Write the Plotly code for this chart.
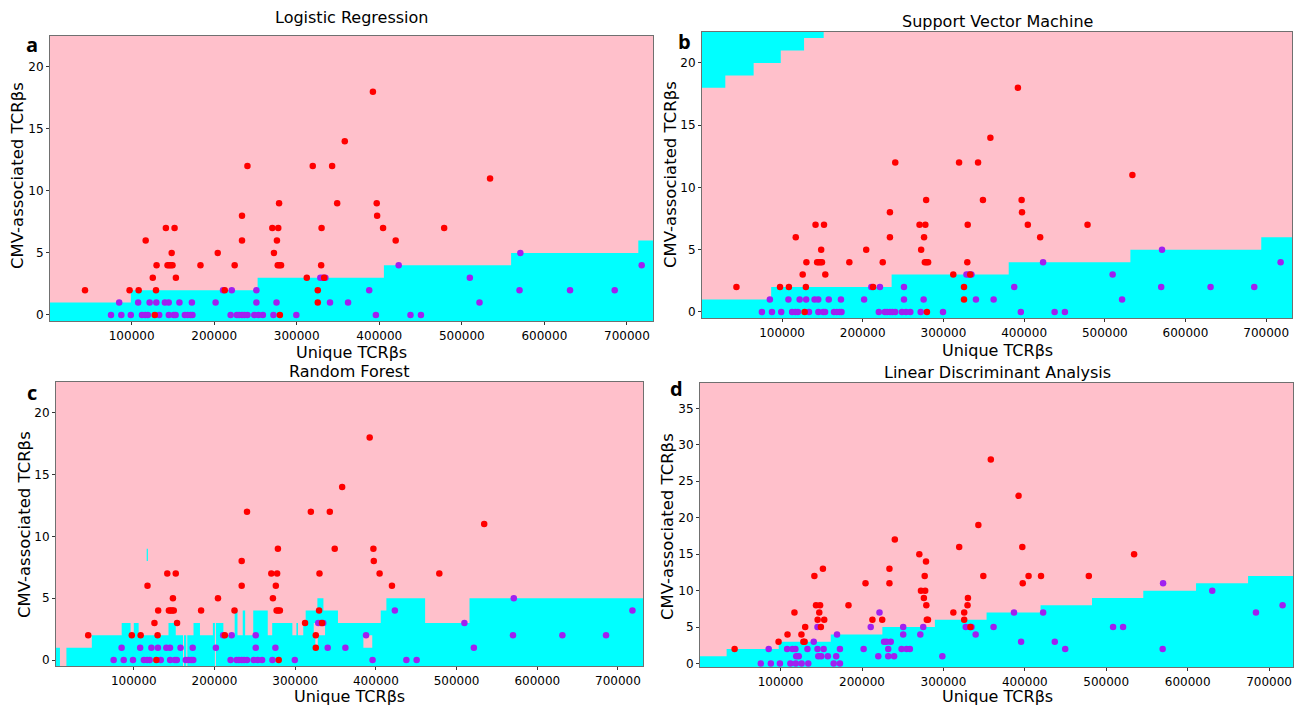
import plotly.graph_objects as go

W, H = 1304, 709
PINK = "#ffc0cb"
CYAN = "#00ffff"
RED = "#ff0000"
PURPLE = "#a020f0"
FONT = "DejaVu Sans"

# ---------------- data ----------------
# CMV+ samples (red) : unique TCRbs, CMV-associated count (panels a-c), count (panel d)
pos_x = [43500, 97500, 108500, 117000, 125600, 128000, 129500, 130200, 141500, 143500,
         145500, 147500, 148500, 149500, 152000, 153600, 183400, 204300, 212800, 224800,
         233700, 233700, 240300, 270400, 272400, 276000, 277600, 278600, 277000, 279000,
         281000, 279600, 312200, 319400, 325500, 325500, 330100, 329600, 333200, 342900,
         349000, 358200, 392300, 396900, 397400, 404600, 419900, 478600, 534200]
pos_y_abc = [2, 2, 2, 6, 3, 0, 2, 4, 7, 4, 4, 4, 5, 4, 7, 3, 4, 5, 2, 4,
             6, 8, 12, 7, 5, 6, 7, 9, 4, 4, 4, 0, 3, 12, 2, 1, 7, 4, 3, 12,
             9, 14, 18, 9, 8, 7, 6, 7, 11]
pos_y_d = [2, 3, 4, 7, 4, 3, 3, 5, 12, 8, 6, 7, 8, 5, 13, 6, 8, 11, 6, 6,
           11, 13, 17, 15, 10, 9, 10, 14, 12, 8, 6, 6, 7, 16, 7, 6, 9, 8, 5, 19,
           12, 28, 23, 16, 11, 12, 12, 12, 15]

# CMV- samples (purple), panels a-c
neg_x_abc = [75000, 87500, 99000, 112500, 116500, 119600, 133400, 145000, 151000, 153300,
             164400, 167800, 171200, 173700, 219900, 227400, 230200, 233700, 236700, 240300,
             248600, 253600, 259000, 271800, 299500, 395900, 437800, 450500,
             84900, 107900, 121800, 129900, 140300, 144900, 157900, 173000, 201700, 251100,
             275500, 340300, 362200, 521400,
             210700, 221300, 251100, 387800, 569900, 631100, 685200,
             328600, 331600, 334700, 509700,
             423500, 717900,
             570900]
neg_y_abc = [0] * 28 + [1] * 14 + [2] * 7 + [3] * 4 + [4] * 2 + [5]

# CMV- samples (purple), panel d
neg_x_d = [75700, 88000, 85400, 99200, 108000, 112000, 118700, 114600, 118200, 119200,
           122300, 125800, 134000, 133000, 140700, 145300, 145300, 152900, 146300, 149900,
           158000, 165200, 172900, 168300, 169300, 172900, 202000, 210700, 220000, 221500,
           227100, 230200, 232200, 235300, 232200, 239400, 248600, 250600, 250600, 254700,
           258800, 271600, 275200, 298700, 327400, 332500, 334500, 339600, 361600, 386700,
           395400, 422500, 436800, 449600, 508400, 520700, 569800, 569300, 630200, 683900,
           716600]
neg_y_d = [0, 0, 2, 0, 2, 0, 0, 2, 2, 1,
           1, 0, 0, 2, 3, 5, 2, 2, 1, 1,
           1, 0, 0, 1, 4, 2, 2, 5, 1, 7,
           3, 3, 2, 3, 1, 1, 2, 4, 5, 2,
           2, 4, 5, 1, 5, 5, 5, 4, 5, 7,
           3, 7, 3, 2, 5, 5, 11, 2, 10, 7,
           8]

# ---------------- decision regions (cyan = CMV- class) ----------------
X_LO, X_HI = 0, 740000
lr_steps = [99000, 252600, 405600, 559700, 713800]
lr_levels = [1, 2, 3, 4, 5, 6]

svm_low_steps = [86500, 235800, 380900, 531700, 693900]
svm_low_levels = [1, 2, 3, 4, 5, 6]
svm_high_steps = [29700, 64800, 98400, 127300, 151600]
svm_high_levels = [18, 19, 20, 21, 22, 23]

rf_steps = [8500, 16500, 48000, 85000, 96000, 100000, 106000, 143000, 152000, 161000,
            162200, 165000, 166300, 174000, 182000, 198000, 200500, 201800, 211000, 225000,
            228500, 235000, 238000, 248000, 266000, 271500, 296500, 301500, 303500, 310000,
            313000, 327500, 335000, 353000, 406000, 413000, 461000, 516000]
rf_levels = [1, -1, 1, 2, 3, 2, 3, 2, 3, 2,
             -1, 2, -1, 2, 3, 2, 3, -1, 3, 2,
             4, 2, 4, 2, 4, 2, 3, 2, 3, 2,
             3, 4, 5, 4, 3, 4, 5, 3, 5]
rf_hole_x0 = [384500, 323000, 325000]
rf_hole_x1 = [395500, 337000, 328000]
rf_hole_y0 = [1, 2, 1]
rf_hole_y1 = [2, 3, 2]
rf_isl_x0 = [116000]
rf_isl_x1 = [117500]
rf_isl_y0 = [8]
rf_isl_y1 = [9]

lda_steps = [33700, 97700, 161600, 225000, 289500, 353000, 419300, 482500, 545500, 610300, 674200]
lda_levels = [1, 2, 3, 4, 5, 6, 7, 8, 9, 10, 11, 12]

titles = ["Logistic Regression", "Support Vector Machine", "Random Forest",
          "Linear Discriminant Analysis"]
letters = ["a", "b", "c", "d"]


def step_poly(steps, levels, base):
    edges = [X_LO] + steps + [X_HI]
    xs, ys = [X_LO], [base]
    for i, lv in enumerate(levels):
        xs += [edges[i], edges[i + 1]]
        ys += [lv, lv]
    xs += [X_HI, X_LO]
    ys += [base, base]
    return xs, ys


def rects(x0s, x1s, y0s, y1s):
    xs, ys = [], []
    for a, b, c, d in zip(x0s, x1s, y0s, y1s):
        xs += [a, b, b, a, a, None]
        ys += [c, c, d, d, c, None]
    return xs, ys


fig = go.Figure()


def add_fill(xs, ys, color, k):
    fig.add_trace(go.Scatter(x=xs, y=ys, mode="lines", fill="toself", fillcolor=color,
                             line=dict(width=0, color=color), hoverinfo="skip",
                             showlegend=False, xaxis=f"x{k}", yaxis=f"y{k}"))


def add_points(k, px, py, nx, ny):
    fig.add_trace(go.Scatter(x=nx, y=ny, mode="markers",
                             marker=dict(color=PURPLE, size=6.5, line=dict(width=0)),
                             showlegend=False, xaxis=f"x{k}", yaxis=f"y{k}"))
    fig.add_trace(go.Scatter(x=px, y=py, mode="markers",
                             marker=dict(color=RED, size=6.5, line=dict(width=0)),
                             showlegend=False, xaxis=f"x{k}", yaxis=f"y{k}"))


# a: logistic regression
add_fill(*step_poly(lr_steps, lr_levels, -1), CYAN, 1)
add_points(1, pos_x, pos_y_abc, neg_x_abc, neg_y_abc)
# b: SVM
add_fill(*step_poly(svm_low_steps, svm_low_levels, -1), CYAN, 2)
add_fill(*step_poly(svm_high_steps, svm_high_levels, 24), CYAN, 2)
add_points(2, pos_x, pos_y_abc, neg_x_abc, neg_y_abc)
# c: random forest
add_fill(*step_poly(rf_steps, rf_levels, -1), CYAN, 3)
add_fill(*rects(rf_hole_x0, rf_hole_x1, rf_hole_y0, rf_hole_y1), PINK, 3)
add_fill(*rects(rf_isl_x0, rf_isl_x1, rf_isl_y0, rf_isl_y1), CYAN, 3)
add_points(3, pos_x, pos_y_abc, neg_x_abc, neg_y_abc)
# d: LDA
add_fill(*step_poly(lda_steps, lda_levels, -1), CYAN, 4)
add_points(4, pos_x, pos_y_d, neg_x_d, neg_y_d)

# ---------------- layout ----------------
panels = [  # left, right, top, bottom (px), x range, y range, y tick step
    (50, 653, 36, 323, [1100, 731600], [-0.5, 22.5], 5),
    (702, 1292, 32, 320, [800, 732000], [-0.5, 22.5], 5),
    (56, 643, 384, 670, [3600, 731000], [-0.5, 22.5], 5),
    (700, 1293, 385, 671, [1000, 729400], [-0.5, 38.5], 5),
]
tickfont = dict(family=FONT, size=12, color="black")
annotations = []
layout = dict(width=W, height=H, margin=dict(l=0, r=0, t=0, b=0),
              paper_bgcolor="white", plot_bgcolor=PINK, showlegend=False)
for i, (l, r, t, b, xr, yr, dy) in enumerate(panels):
    k = i + 1
    sx = "" if k == 1 else str(k)
    common = dict(showgrid=False, zeroline=False, showline=True, mirror=True,
                  linecolor="#707070", linewidth=1, ticks="outside", ticklen=3,
                  tickcolor="#333", tickfont=tickfont)
    layout["xaxis" + sx] = dict(domain=[l / W, r / W], range=xr, anchor="y" + sx,
                                tickmode="array", tickvals=[100000 * j for j in range(1, 8)],
                                ticktext=[str(100000 * j) for j in range(1, 8)], **common)
    layout["yaxis" + sx] = dict(domain=[1 - b / H, 1 - t / H], range=yr, anchor="x" + sx,
                                dtick=dy, tick0=0, **common)

title_pos = [(351, 18), (997, 22), (349, 374), (997, 375)]
xlab_pos = [(351, 354), (997, 352), (349, 700), (997, 700)]
ylab_pos = [(17, 177), (670, 176), (24, 528), (667, 530)]
letter_pos = [(32, 45), (684, 42), (32, 395), (676, 391)]
for i in range(4):
    annotations.append(dict(text=titles[i], x=title_pos[i][0] / W, y=1 - title_pos[i][1] / H,
                            xref="paper", yref="paper", showarrow=False,
                            xanchor="center", yanchor="middle",
                            font=dict(family=FONT, size=16, color="black")))
    annotations.append(dict(text="Unique TCRβs", x=xlab_pos[i][0] / W, y=1 - xlab_pos[i][1] / H,
                            xref="paper", yref="paper", showarrow=False,
                            xanchor="center", yanchor="middle",
                            font=dict(family=FONT, size=16, color="black")))
    annotations.append(dict(text="CMV-associated TCRβs", x=ylab_pos[i][0] / W,
                            y=1 - ylab_pos[i][1] / H, xref="paper", yref="paper",
                            showarrow=False, textangle=-90, xanchor="center", yanchor="middle",
                            font=dict(family=FONT, size=16.5, color="black")))
    annotations.append(dict(text="<b>" + letters[i] + "</b>", x=letter_pos[i][0] / W,
                            y=1 - letter_pos[i][1] / H, xref="paper", yref="paper",
                            showarrow=False, xanchor="center", yanchor="middle",
                            font=dict(family="Open Sans", size=20, color="black")))
layout["annotations"] = annotations
fig.update_layout(**layout)
fig.write_html("out.html")
